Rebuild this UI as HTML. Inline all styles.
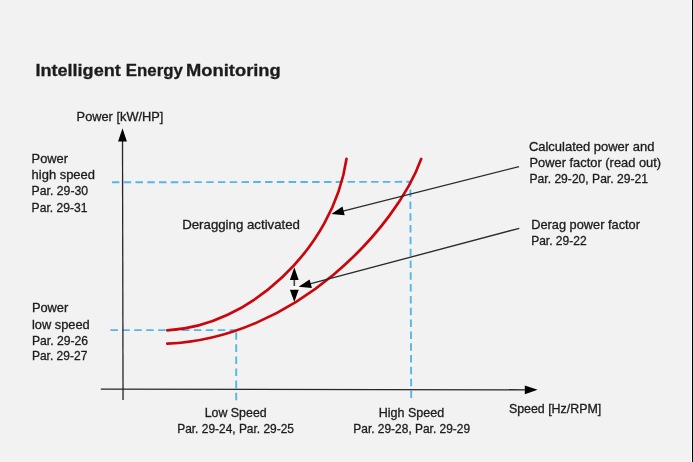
<!DOCTYPE html>
<html><head><meta charset="utf-8">
<style>
html,body{margin:0;padding:0;background:#f2f2f2;}
body{width:693px;height:462px;overflow:hidden;position:relative;}
svg{position:absolute;left:0;top:0;display:block;will-change:transform;}
text{font-family:"Liberation Sans",sans-serif;fill:#1c1c1c;stroke:#1c1c1c;stroke-width:0.3px;}
</style></head><body>
<svg width="693" height="462" viewBox="0 0 693 462">
<rect x="0" y="0" width="693" height="462" fill="#f2f2f2"/>
<rect x="691" y="0" width="1" height="462" fill="#fdfdfd"/>
<rect x="692" y="0" width="1" height="462" fill="#000"/>
<!-- dashed guides -->
<g stroke="#55b7e7" stroke-width="1.9" fill="none">
<path d="M111.9 182.3 L410.9 181.8" stroke-dasharray="7.5 4.28"/>
<path d="M411.2 398 L410.3 181.4" stroke-dasharray="7.5 4.32"/>
<path d="M110.4 330.1 H236.9" stroke-dasharray="7.5 4.43"/>
<path d="M236.2 400.3 V329.4" stroke-dasharray="7.6 4.5"/>
</g>
<!-- axes -->
<g stroke="#262626" stroke-width="1.3" fill="none">
<path d="M122.5 138 L123.05 400"/>
<path d="M100.8 389.2 L526 389.8"/>
</g>
<path d="M122.5 128.2 L126.9 141.4 L118.1 141.4 Z" fill="#000"/>
<path d="M537.6 389.85 L524.8 394.2 L524.8 385.5 Z" fill="#000"/>
<!-- curves -->
<g stroke="#c8060c" stroke-width="2.7" fill="none" stroke-linecap="round">
<path id="cu" d="M167.3 330.3 C248.4 327.2 333.5 248.6 346.5 158.9"/>
<path id="cl" d="M167.3 343.6 C295.6 338.3 396.7 227.4 421.2 158.9"/>
</g>
<!-- leaders -->
<g stroke="#2a2a2a" stroke-width="1.35" fill="none">
<path d="M519 166.6 L340 211.8"/>
<path d="M519.3 228.3 L308 284.4"/>
</g>
<path d="M331.4 213.9 L342.5 206.6 L344.7 215.2 Z" fill="#000"/>
<path d="M298.6 286.8 L309.6 279.4 L311.9 288 Z" fill="#000"/>
<!-- double arrow -->
<rect x="289.8" y="286.3" width="9" height="3.4" fill="#fafafa"/>
<path d="M294.3 279 V286" stroke="#444" stroke-width="1.6"/>
<path d="M294.3 267.3 L298.7 280 L289.9 280 Z" fill="#000"/>
<path d="M294.3 302 L298.7 289.8 L289.9 289.8 Z" fill="#000"/>
<!-- text -->
<g font-size="16.7" font-weight="bold">
<text x="35.4" y="75.5" textLength="85.4" lengthAdjust="spacingAndGlyphs">Intelligent</text>
<text x="125.7" y="75.5" textLength="57.2" lengthAdjust="spacingAndGlyphs">Energy</text>
<text x="186" y="75.5" textLength="94.8" lengthAdjust="spacingAndGlyphs">Monitoring</text>
</g>
<g font-size="12.2">
<text x="76.6" y="120.7" textLength="86.8" lengthAdjust="spacingAndGlyphs">Power [kW/HP]</text>
<text x="31.6" y="162.6" textLength="36.4" lengthAdjust="spacingAndGlyphs">Power</text>
<text x="31.6" y="179.3" textLength="63.4" lengthAdjust="spacingAndGlyphs">high speed</text>
<text x="31.6" y="195.4" textLength="56.5" lengthAdjust="spacingAndGlyphs">Par. 29-30</text>
<text x="31.6" y="211.6" textLength="55.8" lengthAdjust="spacingAndGlyphs">Par. 29-31</text>
<text x="182.2" y="229" textLength="117.8" lengthAdjust="spacingAndGlyphs">Deragging activated</text>
<text x="31.9" y="312.2" textLength="36.4" lengthAdjust="spacingAndGlyphs">Power</text>
<text x="31.9" y="328.8" textLength="57.8" lengthAdjust="spacingAndGlyphs">low speed</text>
<text x="31.9" y="344.7" textLength="56.2" lengthAdjust="spacingAndGlyphs">Par. 29-26</text>
<text x="31.9" y="360.4" textLength="55.5" lengthAdjust="spacingAndGlyphs">Par. 29-27</text>
<text x="204.7" y="417" textLength="62.0" lengthAdjust="spacingAndGlyphs">Low Speed</text>
<text x="177.2" y="433" textLength="116.8" lengthAdjust="spacingAndGlyphs">Par. 29-24, Par. 29-25</text>
<text x="378.8" y="416.8" textLength="65.4" lengthAdjust="spacingAndGlyphs">High Speed</text>
<text x="353.3" y="433.2" textLength="116.8" lengthAdjust="spacingAndGlyphs">Par. 29-28, Par. 29-29</text>
<text x="508.9" y="413" textLength="92.3" lengthAdjust="spacingAndGlyphs">Speed [Hz/RPM]</text>
<text x="528.9" y="151.1" textLength="125.5" lengthAdjust="spacingAndGlyphs">Calculated power and</text>
<text x="529.5" y="166.9" textLength="131.6" lengthAdjust="spacingAndGlyphs">Power factor (read out)</text>
<text x="529.5" y="182.9" textLength="118.4" lengthAdjust="spacingAndGlyphs">Par. 29-20, Par. 29-21</text>
<text x="531.2" y="229.1" textLength="108.8" lengthAdjust="spacingAndGlyphs">Derag power factor</text>
<text x="531.2" y="245.4" textLength="55.4" lengthAdjust="spacingAndGlyphs">Par. 29-22</text>
</g>
</svg>
</body></html>
